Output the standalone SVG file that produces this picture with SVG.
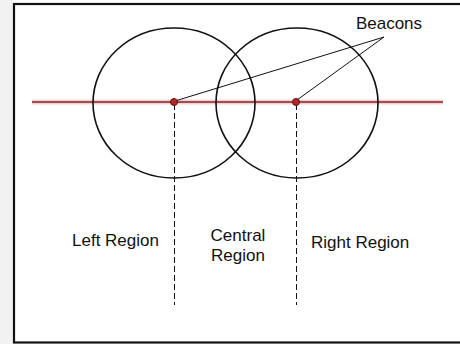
<svg xmlns="http://www.w3.org/2000/svg" width="460" height="344" viewBox="0 0 460 344">
<style>
.lbl{font-family:"Liberation Sans",Arial,sans-serif;font-size:17px;fill:#111}
.ring{fill:none;stroke:#111;stroke-width:1.6}
.dash{stroke:#111;stroke-width:1;stroke-dasharray:6,3;fill:none}
.ptr{stroke:#111;stroke-width:1;fill:none}
.beacon{fill:#b02a2a;stroke:#6a1010;stroke-width:1}
</style>
<rect x="0" y="0" width="460" height="344" fill="#ffffff"/>
<rect x="0" y="0" width="13" height="344" fill="#f2f2f2"/>
<rect x="14" y="4" width="450" height="338.5" fill="#ffffff" stroke="#111" stroke-width="2.2"/>
<g id="axis">
<line x1="32" y1="102" x2="443" y2="102" stroke="#f6d0d0" stroke-width="5"/>
<line x1="32" y1="102" x2="443" y2="102" stroke="#7a2a2a" stroke-width="1.3"/>
</g>
<g id="left-range"><ellipse class="ring" cx="174" cy="103" rx="81" ry="75"/></g>
<g id="right-range"><ellipse class="ring" cx="297" cy="103" rx="81" ry="75"/></g>
<g id="connectors">
<line class="dash" x1="174.5" y1="104" x2="174.5" y2="305"/>
<line class="dash" x1="296.5" y1="104" x2="296.5" y2="305"/>
<line class="ptr" x1="384" y1="37" x2="175" y2="101"/>
<line class="ptr" x1="384" y1="37" x2="297" y2="100"/>
</g>
<g id="left-beacon"><circle class="beacon" cx="174" cy="102" r="3.5"/></g>
<g id="right-beacon"><circle class="beacon" cx="296" cy="102" r="3.5"/></g>
<g id="beacons-label"><text class="lbl" x="389" y="29" text-anchor="middle">Beacons</text></g>
<g id="left-region"><text class="lbl" x="72" y="246">Left Region</text></g>
<g id="central-region"><text class="lbl" x="238" y="241" text-anchor="middle">Central</text><text class="lbl" x="238" y="261" text-anchor="middle">Region</text></g>
<g id="right-region"><text class="lbl" x="311" y="248">Right Region</text></g>
</svg>
